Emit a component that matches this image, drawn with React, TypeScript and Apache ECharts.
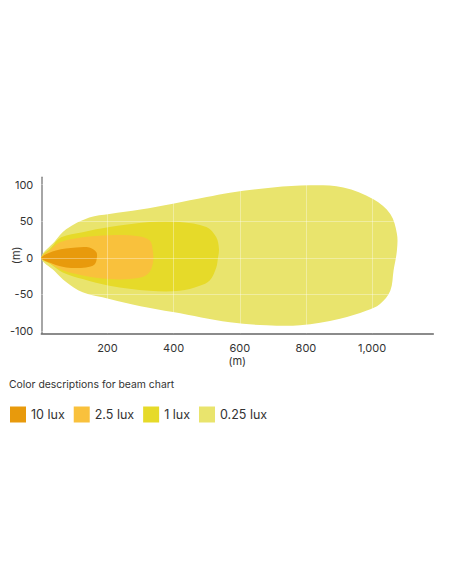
import React, { useEffect, useRef } from "react";
import * as echarts from "echarts";

const xTicks = [200, 400, 600, 800, 1000];
const yTicks = [-100, -50, 0, 50, 100];
const luxLevels = ["10 lux", "2.5 lux", "1 lux", "0.25 lux"];
const luxColors = ["#E89A0C", "#F9C13C", "#E6DA29", "#E9E46D"];

// beam contours, [distance m, lateral m]
const beam10: number[][] = [
  [0, 0], [44, 10], [105, 14], [145, 14], [166, 8], [168, 0], [161, -9], [135, -13], [75, -13], [34, -8],
];
const beam2_5: number[][] = [
  [0, 0], [25, 10], [55, 21], [125, 28], [206, 31], [287, 30], [327, 24], [337, 10], [337, -8],
  [322, -22], [287, -28], [206, -29], [125, -24], [65, -17], [25, -7],
];
const beam1: number[][] = [
  [0, 0], [30, 14], [60, 28], [125, 35], [206, 42], [327, 49], [418, 49], [499, 42], [529, 28],
  [537, 12], [534, 0], [529, -13], [509, -31], [479, -38], [418, -45], [327, -45], [206, -38],
  [125, -29], [65, -20], [30, -9],
];
const beam0_25: number[][] = [
  [0, 0], [40, 22], [75, 39], [145, 55], [206, 60], [300, 66], [398, 74], [500, 83], [570, 89],
  [700, 96], [812, 99], [913, 96], [1004, 80], [1055, 60], [1075, 33], [1075, 10], [1065, -17],
  [1055, -45], [1024, -63], [984, -72], [903, -83], [782, -92], [681, -92], [570, -88], [398, -74],
  [300, -66], [206, -56], [125, -47], [75, -33], [40, -18],
];
const beams = [beam10, beam2_5, beam1, beam0_25];

export default function App() {
  const ref = useRef<HTMLDivElement>(null);
  useEffect(() => {
    document.body.style.margin = "0";
    const chart = echarts.init(ref.current!, null, { renderer: "svg" });
    const font = "Inter";
    const beamSeries = [3, 2, 1, 0].map((i) => {
      const pts = beams[i];
      return {
        type: "custom",
        name: luxLevels[i],
        data: pts,
        encode: { x: 0, y: 1 },
        itemStyle: { color: luxColors[i] },
        silent: true,
        renderItem: (params: any, api: any) => {
          if (params.dataIndex !== 0) return null;
          const points = pts.map((p) => api.coord(p));
          return {
            type: "polygon",
            shape: { points, smooth: 0.35 },
            style: { fill: luxColors[i] },
          };
        },
      };
    });
    chart.setOption({
      animation: false,
      textStyle: { fontFamily: font },
      title: {
        text: "Color descriptions for beam chart",
        left: 9,
        top: 379.5,
        padding: 0,
        textStyle: { fontSize: 10.4, fontWeight: "normal", color: "#333", fontFamily: font },
      },
      legend: {
        data: luxLevels,
        left: 10,
        top: 406.5,
        padding: 0,
        icon: "rect",
        itemWidth: 16,
        itemHeight: 16,
        itemGap: 9,
        selectedMode: false,
        textStyle: { fontSize: 12.5, color: "#333", fontFamily: font },
      },
      grid: {
        left: 41.3,
        right: 18.7,
        top: 177.3,
        bottom: 250.7,
        containLabel: false,
        outerBoundsMode: "none",
      },
      xAxis: {
        type: "value",
        min: 0,
        max: 1185,
        name: "(m)",
        nameLocation: "middle",
        nameGap: 22,
        nameMoveOverlap: false,
        nameTextStyle: { fontSize: 11, color: "#333", fontFamily: font, verticalAlign: "top" },
        axisLine: { show: true, onZero: false, lineStyle: { color: "#666", width: 1.5 } },
        axisTick: { show: false },
        splitLine: { show: false },
        axisLabel: {
          customValues: xTicks,
          fontSize: 11,
          color: "#333",
          margin: 9,
          formatter: (v: number) => v.toLocaleString("en-US"),
        },
      },
      yAxis: {
        type: "value",
        min: -103,
        max: 110,
        name: "(m)",
        nameLocation: "middle",
        nameGap: 20,
        nameMoveOverlap: false,
        nameRotate: 90,
        nameTextStyle: { fontSize: 11, color: "#333", fontFamily: font },
        axisLine: { show: true, onZero: false, lineStyle: { color: "#888", width: 1.5 } },
        axisTick: { show: false },
        splitLine: { show: false },
        axisLabel: {
          customValues: yTicks,
          fontSize: 11,
          color: "#333",
          margin: 8,
          formatter: (v: number) => String(v),
        },
      },
      series: [
        ...beamSeries,
        {
          type: "line",
          name: "grid",
          data: [],
          silent: true,
          z: 10,
          markLine: {
            silent: true,
            symbol: ["none", "none"],
            label: { show: false },
            emphasis: { disabled: true },
            lineStyle: { color: "rgba(255,255,255,0.35)", width: 1, type: "solid" },
            data: [
              ...xTicks.map((v) => ({ xAxis: v })),
              ...yTicks.map((v) => ({ yAxis: v })),
            ],
          },
        },
      ],
    } as any);
    return () => chart.dispose();
  }, []);
  return <div ref={ref} style={{ width: 452, height: 584 }} />;
}
